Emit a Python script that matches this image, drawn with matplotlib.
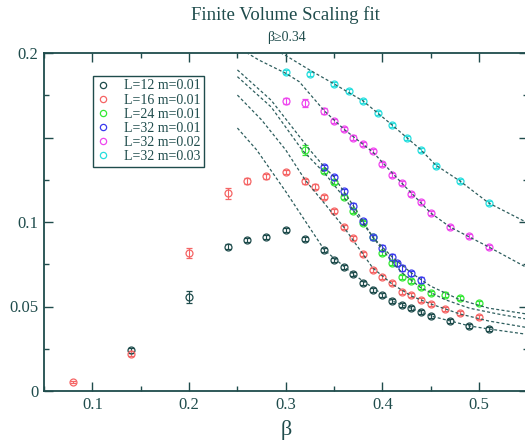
import matplotlib
matplotlib.use('Agg')
import matplotlib.pyplot as plt
from matplotlib.lines import Line2D
from matplotlib.ticker import MultipleLocator, FixedLocator, FixedFormatter

plt.rcParams['font.family'] = ['Liberation Serif', 'DejaVu Serif']

ink = '#1f4c4c'

# measured points: beta, value, error
beta_l12 = [0.14, 0.20, 0.24, 0.26, 0.28, 0.30, 0.32, 0.34, 0.35, 0.36, 0.37, 0.38,
            0.39, 0.40, 0.41, 0.42, 0.43, 0.44, 0.45, 0.47, 0.49, 0.51]
val_l12 = [0.024, 0.0556, 0.0855, 0.0893, 0.0911, 0.0953, 0.0900, 0.0834, 0.0775, 0.0734, 0.0692, 0.0639,
           0.0598, 0.0568, 0.0533, 0.0509, 0.0490, 0.0467, 0.0444, 0.0414, 0.0385, 0.0367]
err_l12 = [0.0015, 0.0038, 0.0012, 0.0012, 0.0012, 0.0012, 0.0012, 0.0012, 0.0012, 0.0012, 0.0012, 0.0012,
           0.0012, 0.0012, 0.0012, 0.0012, 0.0012, 0.0012, 0.0012, 0.0012, 0.0012, 0.0012]

beta_l16 = [0.08, 0.14, 0.20, 0.24, 0.26, 0.28, 0.30, 0.32, 0.33, 0.34, 0.35, 0.36,
            0.37, 0.38, 0.39, 0.40, 0.41, 0.42, 0.43, 0.44, 0.45, 0.465, 0.48, 0.50]
val_l16 = [0.0053, 0.022, 0.0817, 0.117, 0.124, 0.127, 0.1296, 0.124, 0.121, 0.115, 0.1065, 0.097,
           0.0905, 0.081, 0.0716, 0.0675, 0.0639, 0.0586, 0.0568, 0.0538, 0.0515, 0.0485, 0.0462, 0.0438]
err_l16 = [0.0008, 0.0015, 0.003, 0.0032, 0.0018, 0.0015, 0.0012, 0.0015, 0.0012, 0.0012, 0.0012, 0.0012,
           0.0012, 0.0012, 0.0012, 0.0012, 0.0012, 0.0012, 0.0012, 0.0012, 0.0012, 0.0012, 0.0012, 0.0012]

beta_l24 = [0.32, 0.34, 0.35, 0.36, 0.37, 0.38, 0.39, 0.40, 0.41, 0.42, 0.43, 0.44, 0.45, 0.465, 0.48, 0.50]
val_l24 = [0.1425, 0.130, 0.1235, 0.115, 0.1065, 0.0994, 0.091, 0.0817, 0.0757, 0.0675, 0.065, 0.0616,
           0.058, 0.0571, 0.055, 0.052]
err_l24 = [0.0028, 0.0012, 0.0012, 0.0012, 0.0012, 0.0012, 0.0012, 0.0012, 0.0012, 0.0012, 0.0012, 0.0012,
           0.0012, 0.0012, 0.0012, 0.0012]

beta_l32a = [0.34, 0.35, 0.36, 0.37, 0.38, 0.39, 0.40, 0.41, 0.415, 0.42, 0.43, 0.44]
val_l32a = [0.1325, 0.1266, 0.1183, 0.1095, 0.1003, 0.091, 0.0846, 0.0793, 0.0757, 0.0728, 0.0698, 0.0657]
err_l32a = [0.0015, 0.0015, 0.0015, 0.0015, 0.0015, 0.0015, 0.0015, 0.0015, 0.0015, 0.0015, 0.0015, 0.0015]

beta_l32b = [0.30, 0.32, 0.34, 0.35, 0.36, 0.37, 0.38, 0.39, 0.40, 0.41, 0.42, 0.43, 0.44, 0.45,
             0.47, 0.49, 0.51]
val_l32b = [0.1716, 0.1704, 0.1657, 0.1598, 0.155, 0.150, 0.146, 0.142, 0.1343, 0.1278, 0.123, 0.1166,
            0.1118, 0.1053, 0.097, 0.0917, 0.0852]
err_l32b = [0.0018, 0.0022, 0.0015, 0.0012, 0.0012, 0.0012, 0.0012, 0.0012, 0.0012, 0.0012, 0.0012, 0.0012,
            0.0012, 0.0012, 0.0012, 0.0012, 0.0012]

beta_l32c = [0.30, 0.325, 0.35, 0.365, 0.38, 0.395, 0.41, 0.425, 0.44, 0.455, 0.48, 0.51]
val_l32c = [0.1888, 0.1876, 0.1817, 0.1775, 0.1716, 0.1645, 0.1574, 0.1497, 0.1426, 0.1331, 0.1243, 0.1112]
err_l32c = [0.0012, 0.0012, 0.0012, 0.0012, 0.0012, 0.0012, 0.0012, 0.0012, 0.0012, 0.0012, 0.0012, 0.0012]

# fit curves (beta >= 0.34), sampled along the drawn lines
fit_l12_b = [0.25, 0.27, 0.30, 0.34, 0.37, 0.41, 0.45, 0.49, 0.51, 0.55]
fit_l12_v = [0.1556, 0.1426, 0.118, 0.0834, 0.0690, 0.0533, 0.0444, 0.0385, 0.0367, 0.0335]

fit_l16_b = [0.25, 0.275, 0.30, 0.32, 0.34, 0.36, 0.39, 0.41, 0.43, 0.45, 0.48, 0.51, 0.55]
fit_l16_v = [0.1751, 0.1604, 0.1426, 0.1249, 0.111, 0.097, 0.0728, 0.0633, 0.0562, 0.0515, 0.0456,
             0.0414, 0.0375]

fit_l24_b = [0.25, 0.285, 0.317, 0.34, 0.36, 0.38, 0.40, 0.42, 0.44, 0.465, 0.49, 0.52, 0.55]
fit_l24_v = [0.186, 0.168, 0.1426, 0.129, 0.1148, 0.099, 0.0835, 0.070, 0.0610, 0.054, 0.049, 0.0455, 0.0425]

fit_l32a_b = [0.25, 0.285, 0.325, 0.34, 0.35, 0.37, 0.39, 0.41, 0.43, 0.45, 0.48, 0.51, 0.55]
fit_l32a_v = [0.190, 0.172, 0.1426, 0.1325, 0.1266, 0.1095, 0.091, 0.0793, 0.0698, 0.062, 0.054, 0.049, 0.0455]

fit_l32b_b = [0.25, 0.272, 0.30, 0.314, 0.34, 0.36, 0.39, 0.42, 0.45, 0.47, 0.51, 0.55]
fit_l32b_v = [0.2035, 0.1959, 0.188, 0.183, 0.1657, 0.155, 0.1414, 0.123, 0.1053, 0.097, 0.0852, 0.0728]

fit_l32c_b = [0.28, 0.30, 0.326, 0.35, 0.38, 0.41, 0.44, 0.455, 0.48, 0.51, 0.55]
fit_l32c_v = [0.2045, 0.1985, 0.1895, 0.1817, 0.1716, 0.1574, 0.1426, 0.1337, 0.1243, 0.1112, 0.0995]

labels = ['L=12 m=0.01', 'L=16 m=0.01', 'L=24 m=0.01', 'L=32 m=0.01', 'L=32 m=0.02', 'L=32 m=0.03']
colors = [ink, '#f56565', '#35e835', '#3a3aee', '#ee46ee', '#28dede']

fig = plt.figure(figsize=(5.25, 4.45), dpi=100)
ax = fig.add_axes([44 / 525, 54 / 445, 483.5 / 525, 338 / 445])

series = [(beta_l12, val_l12, err_l12), (beta_l16, val_l16, err_l16), (beta_l24, val_l24, err_l24),
          (beta_l32a, val_l32a, err_l32a), (beta_l32b, val_l32b, err_l32b), (beta_l32c, val_l32c, err_l32c)]
for (b, v, e), c in zip(series, colors):
    ax.errorbar(b, v, yerr=e, fmt='o', mfc='none', mec=c, ms=5, mew=0.9,
                ecolor=c, elinewidth=0.8, capsize=2.2, capthick=0.8, zorder=3)

fits = [(fit_l12_b, fit_l12_v), (fit_l16_b, fit_l16_v), (fit_l24_b, fit_l24_v),
        (fit_l32a_b, fit_l32a_v), (fit_l32b_b, fit_l32b_v), (fit_l32c_b, fit_l32c_v)]
for b, v in fits:
    ax.plot(b, v, color='#2e5e5e', lw=0.9, ls=(0, (2.4, 1.8)), zorder=4)

ax.set_xlim(0.05, 0.55)
ax.set_ylim(0, 0.2)
ax.xaxis.set_major_locator(MultipleLocator(0.1))
ax.xaxis.set_minor_locator(MultipleLocator(0.05))
ax.yaxis.set_major_locator(FixedLocator([0, 0.05, 0.1, 0.15, 0.2]))
ax.yaxis.set_major_formatter(FixedFormatter(['0', '0.05', '0.1', '', '0.2']))
ax.yaxis.set_minor_locator(MultipleLocator(0.025))
ax.tick_params(which='both', direction='in', top=True, right=True, colors=ink, labelsize=12)
ax.tick_params(which='major', length=6.5, width=1.0, pad=4)
ax.tick_params(which='minor', length=3.3, width=1.0)
for s in ax.spines.values():
    s.set_color(ink)
    s.set_linewidth(1.3)

handles = [Line2D([], [], ls='none', marker='o', mfc='none', mec=c, ms=4.5, mew=0.9) for c in colors]
leg = ax.legend(handles, labels, loc='upper left', bbox_to_anchor=(49 / 483.5, 315 / 338),
                borderaxespad=0, fancybox=False, edgecolor=ink, framealpha=1, fontsize=10,
                handlelength=1.0, handletextpad=1.0, labelspacing=0.08, borderpad=0.25)
leg.get_frame().set_linewidth(1.0)
for t in leg.get_texts():
    t.set_color(ink)

fig.text(285.5 / 525, 1 - 15 / 445, 'Finite Volume Scaling fit', ha='center', va='center',
         fontsize=13.5, color=ink)
fig.text(286 / 525, 1 - 38 / 445, 'β≥0.34', ha='center', va='center', fontsize=10, color=ink)
fig.text(286 / 525, 1 - 430 / 445, 'β', ha='center', va='center', fontsize=16, color=ink)

fig.savefig('out.png', dpi=100, facecolor='white')
